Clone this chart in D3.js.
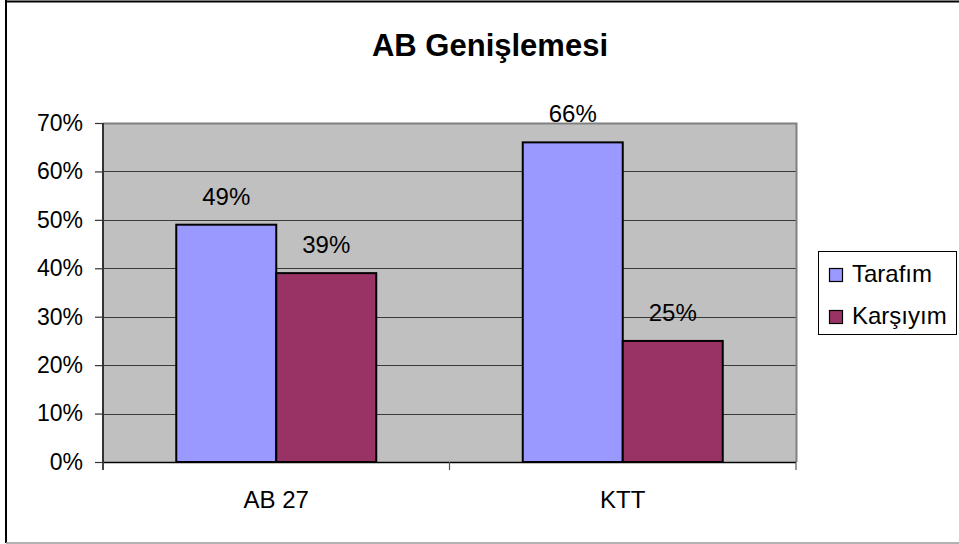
<!DOCTYPE html>
<html><head><meta charset="utf-8">
<script src="https://cdn.jsdelivr.net/npm/d3@7"></script>
<style>body{margin:0;background:#fff}svg{display:block;font-family:"Liberation Sans",Arial,sans-serif}</style>
</head><body><svg id="c" width="959" height="544"></svg>
<script>
const title = "AB Genişlemesi";
const categories = ["AB 27", "KTT"];
const seriesNames = ["Tarafım", "Karşıyım"];
const tarafim = [0.49, 0.66];
const karsiyim = [0.39, 0.25];
const yTicks = [0, 0.1, 0.2, 0.3, 0.4, 0.5, 0.6, 0.7];
const colors = ["#9999FF", "#993366"];

const svg = d3.select("#c");
// outer border
svg.append("line").attr("x1",6).attr("x2",959).attr("y1",1.5).attr("y2",1.5).attr("stroke","#000").attr("stroke-width",2);
svg.append("line").attr("x1",6).attr("x2",6).attr("y1",0).attr("y2",543).attr("stroke","#000").attr("stroke-width",2);
svg.append("line").attr("x1",6).attr("x2",959).attr("y1",543).attr("y2",543).attr("stroke","#999").attr("stroke-width",1.5);

svg.append("text").attr("x",490).attr("y",56).attr("text-anchor","middle")
  .attr("font-size",31).attr("font-weight","bold").text(title);

const L=103, R=796, T=123, B=462;
const x0 = d3.scaleBand().domain(categories).range([L,R]).padding(0);
const x1 = d3.scaleBand().domain(seriesNames).range([0,200]).padding(0);
const y = d3.scaleLinear().domain([0,0.7]).range([B,T]);

svg.append("rect").attr("x",L).attr("y",T).attr("width",R-L).attr("height",B-T).attr("fill","#C0C0C0");
// gridlines
svg.append("g").selectAll("line").data(yTicks.slice(1)).join("line")
  .attr("x1",L).attr("x2",R).attr("y1",d=>Math.round(y(d))+0.5).attr("y2",d=>Math.round(y(d))+0.5)
  .attr("stroke","#3a3a3a").attr("stroke-width",1.2);
// plot border top/right
svg.append("path").attr("d",`M${L},${T+0.5}H${R+0.5}V${B}`).attr("fill","none").attr("stroke","#808080").attr("stroke-width",2);

const data = categories.map((c,i)=>({cat:c, vals:[{s:seriesNames[0],v:tarafim[i],c:colors[0]},{s:seriesNames[1],v:karsiyim[i],c:colors[1]}]}));
const g = svg.append("g").selectAll("g").data(data).join("g")
  .attr("transform",d=>`translate(${x0(d.cat)+x0.bandwidth()/2-100},0)`);
g.selectAll("rect").data(d=>d.vals).join("rect")
  .attr("x",d=>x1(d.s)).attr("y",d=>y(d.v)).attr("width",x1.bandwidth()).attr("height",d=>B-y(d.v))
  .attr("fill",d=>d.c).attr("stroke","#000").attr("stroke-width",2);
g.selectAll("text").data(d=>d.vals).join("text")
  .attr("x",d=>x1(d.s)+x1.bandwidth()/2).attr("y",d=>y(d.v)-20).attr("text-anchor","middle")
  .attr("font-size",24).text(d=>Math.round(d.v*100)+"%");

// y axis
const yAxis = d3.axisLeft(y).tickValues(yTicks).tickFormat(d=>Math.round(d*100)+"%").tickSize(8).tickPadding(12);
const ya = svg.append("g").attr("transform",`translate(${L},0)`).call(yAxis);
ya.select(".domain").remove();
ya.selectAll(".tick line").attr("stroke","#333").attr("stroke-width",1.2);
ya.selectAll("text").attr("font-size",23).attr("fill","#000").attr("font-family","Liberation Sans, Arial, sans-serif");
svg.append("line").attr("x1",L).attr("x2",L).attr("y1",T).attr("y2",B+8).attr("stroke","#333").attr("stroke-width",2);

// x axis
svg.append("line").attr("x1",L).attr("x2",R).attr("y1",B+0.5).attr("y2",B+0.5).attr("stroke","#000").attr("stroke-width",1.5);
const bounds = [L, ...categories.map(c=>x0(c)+x0.bandwidth())];
svg.append("g").selectAll("line").data(bounds).join("line")
  .attr("x1",d=>d).attr("x2",d=>d).attr("y1",B).attr("y2",B+8).attr("stroke","#555").attr("stroke-width",1.2);
svg.append("g").selectAll("text").data(categories).join("text")
  .attr("x",d=>x0(d)+x0.bandwidth()/2).attr("y",508).attr("text-anchor","middle").attr("font-size",24).text(d=>d);

// legend
const lg = svg.append("g");
lg.append("rect").attr("x",818.5).attr("y",251.5).attr("width",138).attr("height",83).attr("fill","#fff").attr("stroke","#000").attr("stroke-width",1);
seriesNames.forEach((s,i)=>{
  lg.append("rect").attr("x",829.5).attr("y",268.5+i*42).attr("width",13).attr("height",13).attr("fill",colors[i]).attr("stroke","#000").attr("stroke-width",1.2);
  lg.append("text").attr("x",852).attr("y",282+i*42).attr("font-size",24).text(s);
});
</script></body></html>
